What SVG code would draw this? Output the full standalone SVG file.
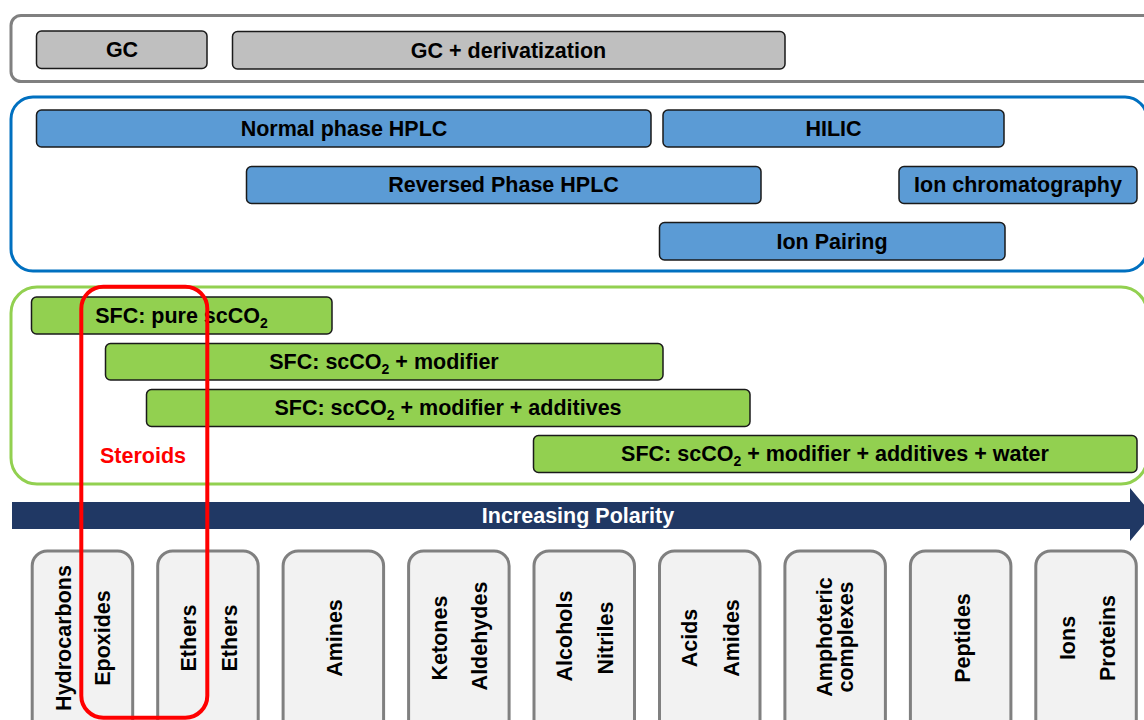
<svg xmlns="http://www.w3.org/2000/svg" width="1144" height="720" viewBox="0 0 1144 720">
<style>
text{font-family:"Liberation Sans",Arial,sans-serif;font-weight:bold;font-size:21.5px;fill:#000}
.c{text-anchor:middle}
.box{stroke:#1a1a1a;stroke-width:1.5}
.gc{fill:#bfbfbf}
.bl{fill:#5b9bd5}
.gr{fill:#92d050}
.cls{fill:#f2f2f2;stroke:#808080;stroke-width:3}
.sub{font-size:14px}
</style>
<rect width="1144" height="720" fill="#fff"/>
<g id="containers" fill="none" stroke-width="3">
<rect id="gc-group" x="11" y="15.5" width="1150" height="66" rx="10" stroke="#808080"/>
<rect id="hplc-group" x="11" y="97" width="1136" height="174" rx="22" stroke="#0070c0"/>
<rect id="sfc-group" x="11" y="287" width="1136" height="197" rx="26" stroke="#92d050"/>
</g>
<g id="gc"><rect class="box gc" x="36.5" y="31" width="170.5" height="37.5" rx="5"/><text class="c" x="122" y="57">GC</text></g>
<g id="gc-deriv"><rect class="box gc" x="232.5" y="31.5" width="552.5" height="37.5" rx="5"/><text class="c" x="508.5" y="58">GC + derivatization</text></g>
<g id="np-hplc"><rect class="box bl" x="36.5" y="110" width="614.5" height="37" rx="5"/><text class="c" x="344" y="136">Normal phase HPLC</text></g>
<g id="hilic"><rect class="box bl" x="663" y="110" width="341" height="37" rx="5"/><text class="c" x="833.5" y="136">HILIC</text></g>
<g id="rp-hplc"><rect class="box bl" x="246.5" y="166.5" width="514.5" height="37" rx="5"/><text class="c" x="503.5" y="192">Reversed Phase HPLC</text></g>
<g id="ion-chrom"><rect class="box bl" x="899" y="166.5" width="238" height="37" rx="5"/><text class="c" x="1018" y="192">Ion chromatography</text></g>
<g id="ion-pair"><rect class="box bl" x="659.5" y="222.5" width="345.5" height="37.5" rx="5"/><text class="c" x="832" y="249">Ion Pairing</text></g>
<g id="sfc1"><rect class="box gr" x="31.5" y="297" width="300.5" height="37" rx="5"/><text class="c" x="181.5" y="323">SFC: pure scCO<tspan class="sub" dy="5">2</tspan></text></g>
<g id="sfc2"><rect class="box gr" x="105.5" y="343.5" width="557.5" height="36.5" rx="5"/><text class="c" x="384" y="369">SFC: scCO<tspan class="sub" dy="5">2</tspan><tspan dy="-5"> + modifier</tspan></text></g>
<g id="sfc3"><rect class="box gr" x="146.5" y="389.5" width="603.5" height="37" rx="5"/><text class="c" x="448" y="415">SFC: scCO<tspan class="sub" dy="5">2</tspan><tspan dy="-5"> + modifier + additives</tspan></text></g>
<g id="sfc4"><rect class="box gr" x="533.5" y="435.5" width="603.5" height="37" rx="5"/><text class="c" x="835" y="461">SFC: scCO<tspan class="sub" dy="5">2</tspan><tspan dy="-5"> + modifier + additives + water</tspan></text></g>
<g id="steroids-label"><text x="100" y="462.5" style="fill:#ff0000">Steroids</text></g>
<g id="polarity-arrow"><path d="M12,502 L1130,502 L1130,488 L1152,514.5 L1130,541 L1130,529 L12,529 Z" fill="#203864"/><text class="c" x="578" y="523" style="fill:#fff">Increasing Polarity</text></g>
<g id="class1"><rect class="cls" x="32.2" y="551" width="100.5" height="200" rx="15"/><text class="c" x="71" y="638" transform="rotate(-90 71 638)">Hydrocarbons</text><text class="c" x="110" y="638" transform="rotate(-90 110 638)">Epoxides</text></g>
<g id="class2"><rect class="cls" x="157.7" y="551" width="100.5" height="200" rx="15"/><text class="c" x="196" y="638" transform="rotate(-90 196 638)">Ethers</text><text class="c" x="237" y="638" transform="rotate(-90 237 638)">Ethers</text></g>
<g id="class3"><rect class="cls" x="283.1" y="551" width="100.5" height="200" rx="15"/><text class="c" x="341.5" y="638" transform="rotate(-90 341.5 638)">Amines</text></g>
<g id="class4"><rect class="cls" x="408.6" y="551" width="100.5" height="200" rx="15"/><text class="c" x="446.5" y="638" transform="rotate(-90 446.5 638)">Ketones</text><text class="c" x="487" y="636" transform="rotate(-90 487 636)">Aldehydes</text></g>
<g id="class5"><rect class="cls" x="534" y="551" width="100.5" height="200" rx="15"/><text class="c" x="571.5" y="636" transform="rotate(-90 571.5 636)">Alcohols</text><text class="c" x="613" y="638" transform="rotate(-90 613 638)">Nitriles</text></g>
<g id="class6"><rect class="cls" x="659.5" y="551" width="100.5" height="200" rx="15"/><text class="c" x="697" y="638" transform="rotate(-90 697 638)">Acids</text><text class="c" x="739" y="638" transform="rotate(-90 739 638)">Amides</text></g>
<g id="class7"><rect class="cls" x="784.9" y="551" width="100.5" height="200" rx="15"/><text class="c" x="831.5" y="637" transform="rotate(-90 831.5 637)">Amphoteric</text><text class="c" x="853" y="637" transform="rotate(-90 853 637)">complexes</text></g>
<g id="class8"><rect class="cls" x="910.4" y="551" width="100.5" height="200" rx="15"/><text class="c" x="969.5" y="638" transform="rotate(-90 969.5 638)">Peptides</text></g>
<g id="class9"><rect class="cls" x="1035.8" y="551" width="100.5" height="200" rx="15"/><text class="c" x="1075" y="638" transform="rotate(-90 1075 638)">Ions</text><text class="c" x="1115" y="638" transform="rotate(-90 1115 638)">Proteins</text></g>
<g id="steroids-highlight"><rect x="81.3" y="286.7" width="126" height="431" rx="22" fill="none" stroke="#ff0000" stroke-width="4"/></g>
</svg>
